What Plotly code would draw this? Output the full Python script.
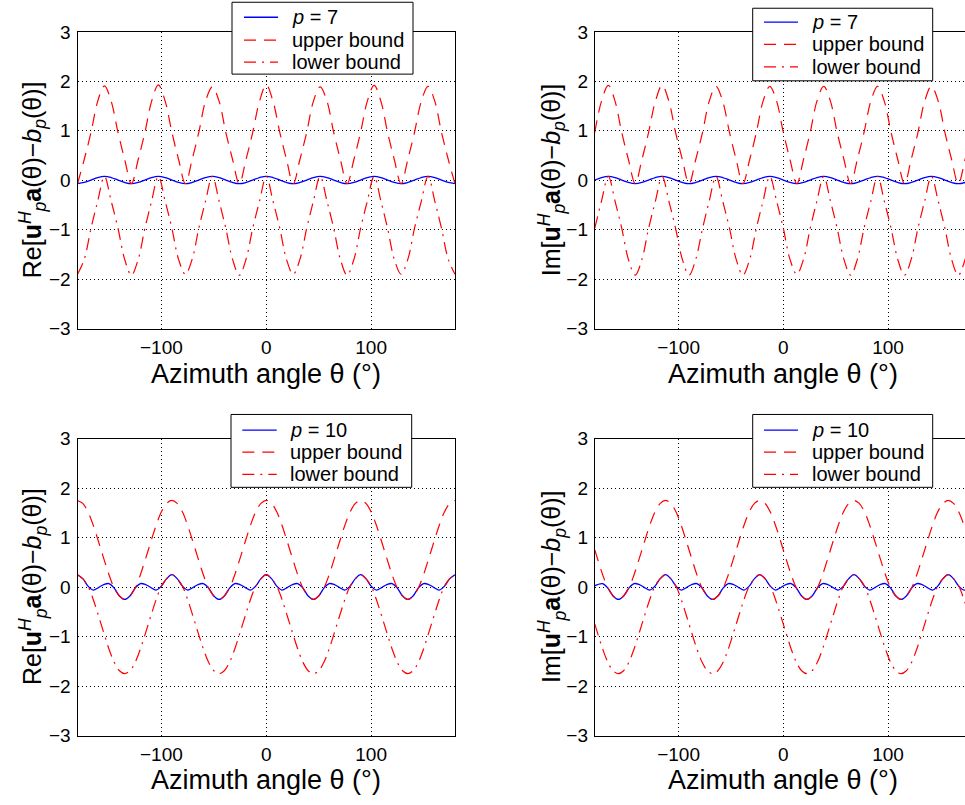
import plotly.graph_objects as go

W, H = 965, 805
FONT = "Liberation Sans, Arial, Helvetica, sans-serif"

# ---------------- data ----------------
# p = 7 panels: azimuth grid (deg)
X7 = [-180.0, -173.6, -167.1, -160.7, -154.3, -147.9, -141.4, -135.0,
      -128.6, -122.1, -115.7, -109.3, -102.9, -96.4, -90.0, -83.6,
      -77.1, -70.7, -64.3, -57.9, -51.4, -45.0, -38.6, -32.1,
      -25.7, -19.3, -12.9, -6.4, 0.0, 6.4, 12.9, 19.3,
      25.7, 32.1, 38.6, 45.0, 51.4, 57.9, 64.3, 70.7,
      77.1, 83.6, 90.0, 96.4, 102.9, 109.3, 115.7, 122.1,
      128.6, 135.0, 141.4, 147.9, 154.3, 160.7, 167.1, 173.6,
      180.0]

RE7_P = [-0.07, -0.045, 0.005, 0.055, 0.08, 0.055, 0.005, -0.045,
         -0.07, -0.045, 0.005, 0.055, 0.08, 0.055, 0.005, -0.045,
         -0.07, -0.045, 0.005, 0.055, 0.08, 0.055, 0.005, -0.045,
         -0.07, -0.045, 0.005, 0.055, 0.08, 0.055, 0.005, -0.045,
         -0.07, -0.045, 0.005, 0.055, 0.08, 0.055, 0.005, -0.045,
         -0.07, -0.045, 0.005, 0.055, 0.08, 0.055, 0.005, -0.045,
         -0.07, -0.045, 0.005, 0.055, 0.08, 0.055, 0.005, -0.045,
         -0.07]
RE7_UP = [-0.07, 0.42, 0.97, 1.6, 1.91, 1.6, 0.97, 0.42,
          -0.07, 0.42, 0.97, 1.6, 1.93, 1.6, 0.97, 0.42,
          -0.07, 0.42, 0.97, 1.6, 1.89, 1.6, 0.97, 0.42,
          -0.07, 0.42, 0.97, 1.6, 1.93, 1.6, 0.97, 0.42,
          -0.07, 0.42, 0.97, 1.6, 1.89, 1.6, 0.97, 0.42,
          -0.07, 0.42, 0.97, 1.6, 1.92, 1.6, 0.97, 0.42,
          -0.07, 0.42, 0.97, 1.6, 1.9, 1.6, 0.97, 0.42,
          -0.07]
RE7_LO = [-1.9, -1.6, -0.97, -0.42, 0.08, -0.42, -0.97, -1.6,
          -1.92, -1.6, -0.97, -0.42, 0.08, -0.42, -0.97, -1.6,
          -1.9, -1.6, -0.97, -0.42, 0.08, -0.42, -0.97, -1.6,
          -1.92, -1.6, -0.97, -0.42, 0.08, -0.42, -0.97, -1.6,
          -1.9, -1.6, -0.97, -0.42, 0.08, -0.42, -0.97, -1.6,
          -1.92, -1.6, -0.97, -0.42, 0.08, -0.42, -0.97, -1.6,
          -1.9, -1.6, -0.97, -0.42, 0.08, -0.42, -0.97, -1.6,
          -1.9]

IM7_P = [0.005, 0.055, 0.08, 0.055, 0.005, -0.045, -0.07, -0.045,
         0.005, 0.055, 0.08, 0.055, 0.005, -0.045, -0.07, -0.045,
         0.005, 0.055, 0.08, 0.055, 0.005, -0.045, -0.07, -0.045,
         0.005, 0.055, 0.08, 0.055, 0.005, -0.045, -0.07, -0.045,
         0.005, 0.055, 0.08, 0.055, 0.005, -0.045, -0.07, -0.045,
         0.005, 0.055, 0.08, 0.055, 0.005, -0.045, -0.07, -0.045,
         0.005, 0.055, 0.08, 0.055, 0.005, -0.045, -0.07, -0.045,
         0.005]
IM7_UP = [0.97, 1.6, 1.92, 1.6, 0.97, 0.42, -0.07, 0.42,
          0.97, 1.6, 1.92, 1.6, 0.97, 0.42, -0.07, 0.42,
          0.97, 1.6, 1.9, 1.6, 0.97, 0.42, -0.07, 0.42,
          0.97, 1.6, 1.9, 1.6, 0.97, 0.42, -0.07, 0.42,
          0.97, 1.6, 1.9, 1.6, 0.97, 0.42, -0.07, 0.42,
          0.97, 1.6, 1.9, 1.6, 0.97, 0.42, -0.07, 0.42,
          0.97, 1.6, 1.9, 1.6, 0.97, 0.42, -0.07, 0.42,
          0.97]
IM7_LO = [-0.97, -0.42, 0.08, -0.42, -0.97, -1.6, -1.92, -1.6,
          -0.97, -0.42, 0.08, -0.42, -0.97, -1.6, -1.92, -1.6,
          -0.97, -0.42, 0.08, -0.42, -0.97, -1.6, -1.92, -1.6,
          -0.97, -0.42, 0.08, -0.42, -0.97, -1.6, -1.9, -1.6,
          -0.97, -0.42, 0.08, -0.42, -0.97, -1.6, -1.92, -1.6,
          -0.97, -0.42, 0.08, -0.42, -0.97, -1.6, -1.92, -1.6,
          -0.97, -0.42, 0.08, -0.42, -0.97, -1.6, -1.92, -1.6,
          -0.97]

# p = 10, real part: azimuth grid (deg)
X10R = [-180, -175, -170, -165, -160, -155, -150, -145, -140, -135, -130, -125,
        -120, -115, -110, -105, -100, -95, -90, -85, -80, -75, -70, -65,
        -60, -55, -50, -45, -40, -35, -30, -25, -20, -15, -10, -5,
        0, 5, 10, 15, 20, 25, 30, 35, 40, 45, 50, 55,
        60, 65, 70, 75, 80, 85, 90, 95, 100, 105, 110, 115,
        120, 125, 130, 135, 140, 145, 150, 155, 160, 165, 170, 175,
        180]
RE10_P = [0.25, 0.17, 0.02, -0.06, -0.01, 0.05, 0.07, -0.02, -0.18, -0.25, -0.18, -0.02,
          0.07, 0.05, -0.01, -0.06, 0.02, 0.17,
          0.25, 0.17, 0.02, -0.06, -0.01, 0.05, 0.07, -0.02, -0.18, -0.25, -0.18, -0.02,
          0.07, 0.05, -0.01, -0.06, 0.02, 0.17,
          0.25, 0.17, 0.02, -0.06, -0.01, 0.05, 0.07, -0.02, -0.18, -0.25, -0.18, -0.02,
          0.07, 0.05, -0.01, -0.06, 0.02, 0.17,
          0.25, 0.17, 0.02, -0.06, -0.01, 0.05, 0.07, -0.02, -0.18, -0.25, -0.18, -0.02,
          0.07, 0.05, -0.01, -0.06, 0.02, 0.17,
          0.25]
RE10_UP = [1.75, 1.69, 1.52, 1.25, 0.92, 0.58, 0.25, -0.02, -0.18, -0.25, -0.18, -0.02,
           0.25, 0.58, 0.92, 1.25, 1.52, 1.69,
           1.75, 1.69, 1.52, 1.25, 0.92, 0.58, 0.25, -0.02, -0.18, -0.25, -0.18, -0.02,
           0.25, 0.58, 0.92, 1.25, 1.52, 1.69,
           1.75, 1.69, 1.52, 1.25, 0.92, 0.58, 0.25, -0.02, -0.18, -0.25, -0.18, -0.02,
           0.25, 0.58, 0.92, 1.25, 1.52, 1.69,
           1.75, 1.69, 1.52, 1.25, 0.92, 0.58, 0.25, -0.02, -0.18, -0.25, -0.18, -0.02,
           0.25, 0.58, 0.92, 1.25, 1.52, 1.69,
           1.75]
RE10_LO = [0.25, 0.17, 0.02, -0.25, -0.58, -0.92, -1.25, -1.52, -1.69, -1.75, -1.69, -1.52,
           -1.25, -0.92, -0.58, -0.25, 0.02, 0.17,
           0.25, 0.17, 0.02, -0.25, -0.58, -0.92, -1.25, -1.52, -1.69, -1.75, -1.69, -1.52,
           -1.25, -0.92, -0.58, -0.25, 0.02, 0.17,
           0.25, 0.17, 0.02, -0.25, -0.58, -0.92, -1.25, -1.52, -1.69, -1.75, -1.69, -1.52,
           -1.25, -0.92, -0.58, -0.25, 0.02, 0.17,
           0.25, 0.17, 0.02, -0.25, -0.58, -0.92, -1.25, -1.52, -1.69, -1.75, -1.69, -1.52,
           -1.25, -0.92, -0.58, -0.25, 0.02, 0.17,
           0.25]

# p = 10, imaginary part: azimuth grid (deg)
X10I = [-180, -177.5, -172.5, -167.5, -162.5, -157.5, -152.5, -147.5, -142.5, -137.5,
        -132.5, -127.5, -122.5, -117.5, -112.5, -107.5, -102.5, -97.5, -92.5, -87.5,
        -82.5, -77.5, -72.5, -67.5, -62.5, -57.5, -52.5, -47.5, -42.5, -37.5,
        -32.5, -27.5, -22.5, -17.5, -12.5, -7.5, -2.5, 2.5, 7.5, 12.5,
        17.5, 22.5, 27.5, 32.5, 37.5, 42.5, 47.5, 52.5, 57.5, 62.5,
        67.5, 72.5, 77.5, 82.5, 87.5, 92.5, 97.5, 102.5, 107.5, 112.5,
        117.5, 122.5, 127.5, 132.5, 137.5, 142.5, 147.5, 152.5, 157.5, 162.5,
        167.5, 172.5, 177.5, 180]
IM10_P = [0.03,
          0.05, 0.07, -0.02, -0.18, -0.25, -0.18, -0.02, 0.07, 0.05, -0.01,
          -0.06, 0.02, 0.17, 0.25, 0.17, 0.02, -0.06, -0.01,
          0.05, 0.07, -0.02, -0.18, -0.25, -0.18, -0.02, 0.07, 0.05, -0.01,
          -0.06, 0.02, 0.17, 0.25, 0.17, 0.02, -0.06, -0.01,
          0.05, 0.07, -0.02, -0.18, -0.25, -0.18, -0.02, 0.07, 0.05, -0.01,
          -0.06, 0.02, 0.17, 0.25, 0.17, 0.02, -0.06, -0.01,
          0.05, 0.07, -0.02, -0.18, -0.25, -0.18, -0.02, 0.07, 0.05, -0.01,
          -0.06, 0.02, 0.17, 0.25, 0.17, 0.02, -0.06, -0.01,
          0.03]
IM10_UP = [0.75,
           0.58, 0.25, -0.02, -0.18, -0.25, -0.18, -0.02, 0.25, 0.58, 0.92,
           1.25, 1.52, 1.69, 1.75, 1.69, 1.52, 1.25, 0.92,
           0.58, 0.25, -0.02, -0.18, -0.25, -0.18, -0.02, 0.25, 0.58, 0.92,
           1.25, 1.52, 1.69, 1.75, 1.69, 1.52, 1.25, 0.92,
           0.58, 0.25, -0.02, -0.18, -0.25, -0.18, -0.02, 0.25, 0.58, 0.92,
           1.25, 1.52, 1.69, 1.75, 1.69, 1.52, 1.25, 0.92,
           0.58, 0.25, -0.02, -0.18, -0.25, -0.18, -0.02, 0.25, 0.58, 0.92,
           1.25, 1.52, 1.69, 1.75, 1.69, 1.52, 1.25, 0.92,
           0.75]
IM10_LO = [-0.75,
           -0.92, -1.25, -1.52, -1.69, -1.75, -1.69, -1.52, -1.25, -0.92, -0.58,
           -0.25, 0.02, 0.17, 0.25, 0.17, 0.02, -0.25, -0.58,
           -0.92, -1.25, -1.52, -1.69, -1.75, -1.69, -1.52, -1.25, -0.92, -0.58,
           -0.25, 0.02, 0.17, 0.25, 0.17, 0.02, -0.25, -0.58,
           -0.92, -1.25, -1.52, -1.69, -1.75, -1.69, -1.52, -1.25, -0.92, -0.58,
           -0.25, 0.02, 0.17, 0.25, 0.17, 0.02, -0.25, -0.58,
           -0.92, -1.25, -1.52, -1.69, -1.75, -1.69, -1.52, -1.25, -0.92, -0.58,
           -0.25, 0.02, 0.17, 0.25, 0.17, 0.02, -0.25, -0.58,
           -0.75]

SERIES_NAMES_7 = ["<i>p</i> = 7", "upper bound", "lower bound"]
SERIES_NAMES_10 = ["<i>p</i> = 10", "upper bound", "lower bound"]
X_TICKS = [-100, 0, 100]
Y_TICKS = [-3, -2, -1, 0, 1, 2, 3]
X_TITLE = "Azimuth angle θ (°)"
Y_TITLE_RE = "Re[<b>u</b><sup><i>H</i></sup><sub><i>p</i></sub><b>a</b>(θ)−<i>b</i><sub><i>p</i></sub>(θ)]"
Y_TITLE_IM = "Im[<b>u</b><sup><i>H</i></sup><sub><i>p</i></sub><b>a</b>(θ)−<i>b</i><sub><i>p</i></sub>(θ)]"

# ---------------- layout geometry (pixels) ----------------
# vertical placement correction observed for this page
VS, VOFF = 0.9758, 9.76


def fx(p):
    return p / W


def fy(p):
    return 1 - ((p - VOFF) / VS) / H


panels = [
    dict(sfx="", x=X7, ys=(RE7_P, RE7_UP, RE7_LO), names=SERIES_NAMES_7,
         xd=(77.5, 455.0), yd=(31.7, 329.0), xr=[-180, 180],
         box_px=(232, 2, 413, 74), rows=(17, 40, 62), samp=(244, 278), txt=290,
         yt=Y_TITLE_RE, ytx=33, xtc=266.3, full=True),
    dict(sfx="2", x=X7, ys=(IM7_P, IM7_UP, IM7_LO), names=SERIES_NAMES_7,
         xd=(594.8, 965.0), yd=(31.7, 329.0), xr=[-180, 173.5],
         box_px=(752.7, 8, 932.7, 80.7), rows=(22, 44.3, 66.7), samp=(764, 798), txt=810,
         yt=Y_TITLE_IM, ytx=552, xtc=783.3, full=False),
    dict(sfx="3", x=X10R, ys=(RE10_P, RE10_UP, RE10_LO), names=SERIES_NAMES_10,
         xd=(77.5, 455.0), yd=(439.2, 736.7), xr=[-180, 180],
         box_px=(231, 415, 411.7, 488), rows=(430.7, 452.7, 475), samp=(242.3, 276.7), txt=288.3,
         yt=Y_TITLE_RE, ytx=33, xtc=266.3, full=True),
    dict(sfx="4", x=X10I, ys=(IM10_P, IM10_UP, IM10_LO), names=SERIES_NAMES_10,
         xd=(594.8, 965.0), yd=(439.2, 736.7), xr=[-180, 173.5],
         box_px=(752.7, 415, 932.7, 488), rows=(430.7, 452.7, 475), samp=(764, 798), txt=810,
         yt=Y_TITLE_IM, ytx=552, xtc=783.3, full=False),
]

styles = [
    dict(color="#0000ff", width=1.3, dash="solid"),
    dict(color="#ff0000", width=1.2, dash="12px,8px"),
    dict(color="#ff0000", width=1.2, dash="12px,6px,2px,6px"),
]

fig = go.Figure()
layout = dict(
    width=W, height=H,
    margin=dict(l=0, r=0, t=0, b=0),
    paper_bgcolor="white", plot_bgcolor="white",
    showlegend=False,
    annotations=[], shapes=[],
)

axis_common = dict(
    showline=True, linecolor="black", linewidth=1,
    showgrid=True, gridcolor="black", gridwidth=1, griddash="1px,3px",
    zeroline=False, ticks="outside", ticklen=2, tickcolor="rgba(0,0,0,0)",
    tickfont=dict(family=FONT, size=19, color="black"),
)

for pn in panels:
    sfx = pn["sfx"]
    for ys, name, st in zip(pn["ys"], pn["names"], styles):
        fig.add_trace(go.Scatter(
            x=pn["x"], y=ys, mode="lines", name=name,
            line=dict(color=st["color"], width=st["width"], dash=st["dash"],
                      shape="spline", smoothing=1.0),
            xaxis="x" + sfx, yaxis="y" + sfx, showlegend=False,
            hoverinfo="skip",
        ))
    layout["xaxis" + sfx] = dict(
        axis_common, domain=[fx(pn["xd"][0]), fx(pn["xd"][1])],
        range=pn["xr"], tickvals=X_TICKS, mirror=True,
        anchor="y" + sfx,
    )
    layout["yaxis" + sfx] = dict(
        axis_common, domain=[fy(pn["yd"][1]), fy(pn["yd"][0])],
        range=[-3, 3], tickvals=Y_TICKS, mirror=pn["full"],
        anchor="x" + sfx,
    )

    # legend box (drawn above the curves)
    bx0, by0, bx1, by1 = pn["box_px"]
    layout["shapes"].append(dict(
        type="rect", xref="paper", yref="paper", layer="above",
        x0=fx(bx0), x1=fx(bx1), y0=fy(by1), y1=fy(by0),
        fillcolor="white", line=dict(color="black", width=1),
    ))
    for name, st, ry in zip(pn["names"], styles, pn["rows"]):
        layout["shapes"].append(dict(
            type="line", xref="paper", yref="paper", layer="above",
            x0=fx(pn["samp"][0]), x1=fx(pn["samp"][1]), y0=fy(ry), y1=fy(ry),
            line=dict(color=st["color"], width=st["width"], dash=st["dash"]),
        ))
        layout["annotations"].append(dict(
            text=name, xref="paper", yref="paper", x=fx(pn["txt"]), y=fy(ry),
            xanchor="left", yanchor="middle", showarrow=False,
            font=dict(family=FONT, size=20, color="black"),
        ))

    # axis titles
    layout["annotations"].append(dict(
        text=X_TITLE, xref="paper", yref="paper",
        x=fx(pn["xtc"]), y=fy(pn["yd"][1] + 45), xanchor="center", yanchor="middle",
        showarrow=False, font=dict(family=FONT, size=27, color="black"),
    ))
    layout["annotations"].append(dict(
        text=pn["yt"], xref="paper", yref="paper", textangle=-90,
        x=fx(pn["ytx"]), y=fy((pn["yd"][0] + pn["yd"][1]) / 2),
        xanchor="center", yanchor="middle",
        showarrow=False, font=dict(family=FONT, size=25, color="black"),
    ))

fig.update_layout(**layout)
fig.write_html("out.html")
